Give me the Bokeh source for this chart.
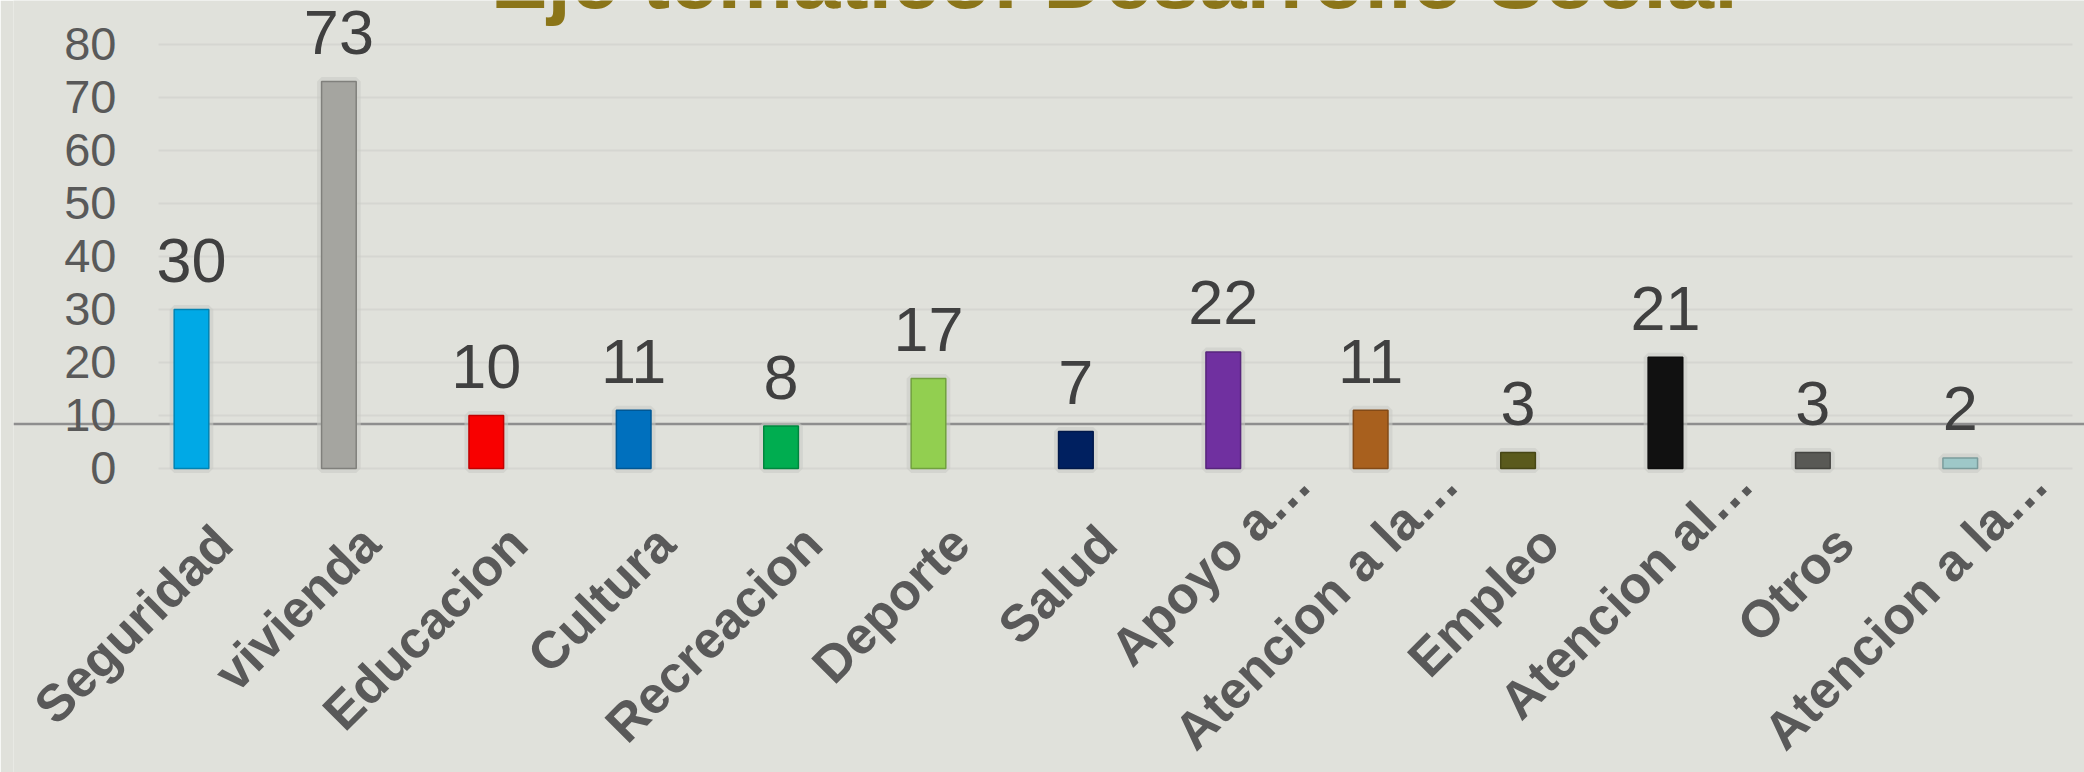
import math
from bokeh.plotting import figure
from bokeh.models import Range1d, FixedTicker, Span, Label, LinearAxis
from bokeh.core.properties import value
from bokeh.embed import file_html
from bokeh.resources import INLINE

# ---- data ----
categories = ["Seguridad", "vivienda", "Educacion", "Cultura", "Recreacion",
              "Deporte", "Salud", "Apoyo a\u2026", "Atencion a la\u2026", "Empleo",
              "Atencion al\u2026", "Otros", "Atencion a la\u2026"]
counts = [30, 73, 10, 11, 8, 17, 7, 22, 11, 3, 21, 3, 2]
bar_colors = ["#00A9E6", "#A5A5A0", "#F80000", "#0070BE", "#00AD50", "#92CF50",
              "#002060", "#7030A0", "#A8601E", "#5A5A1C", "#111111", "#595955",
              "#9EC8C8"]
y_ticks = [0, 10, 20, 30, 40, 50, 60, 70, 80]
title_text = "Eje tematico: Desarrollo Social"

# ---- style ----
BG = "#E0E1DB"
FONT = "Liberation Sans"
LABEL_SHIFT = 0.215       # rotated category labels sit a bit right of the bar
TRUNC_SHIFT = 0.53        # truncated ("…") labels sit further right / higher

def darker(hexcol, f=0.78):
    h = hexcol.lstrip("#")
    r, g, b = (int(h[i:i + 2], 16) for i in (0, 2, 4))
    return "#%02X%02X%02X" % (int(r * f), int(g * f), int(b * f))

edge_colors = [darker(c) for c in bar_colors]
idx = list(range(len(categories)))

p = figure(width=2084, height=772, output_backend="svg", toolbar_location=None,
           x_range=Range1d(-1.2076, 12.843), y_range=Range1d(-57.36, 88.3),
           min_border_left=13, min_border_right=0, min_border_top=0,
           min_border_bottom=0, background_fill_color=BG,
           border_fill_color=BG, outline_line_color=None)

# grid
p.xgrid.visible = False
p.ygrid.grid_line_color = "#D5D6D1"
p.ygrid.grid_line_width = 2
try:
    p.ygrid.cross_bounds = (-0.224, 12.761)
except Exception:
    pass

# y axis
yax = p.yaxis[0]
yax.ticker = FixedTicker(ticks=y_ticks)
yax.fixed_location = -0.414
yax.axis_line_color = None
yax.major_tick_line_color = None
yax.minor_tick_line_color = None
yax.major_label_standoff = 8
yax.major_label_text_font = FONT
yax.major_label_text_font_size = "47px"
yax.major_label_text_color = "#595959"

# x axes: category labels (plain and truncated ones)
p.xaxis[0].visible = False

def cat_axis(pairs, standoff):
    ax = LinearAxis(fixed_location=0)
    ax.ticker = FixedTicker(ticks=[t for t, _ in pairs])
    ax.major_label_overrides = {t: c for t, c in pairs}
    ax.major_label_orientation = math.pi / 4
    ax.axis_line_color = None
    ax.major_tick_line_color = None
    ax.minor_tick_line_color = None
    ax.major_label_standoff = standoff
    ax.major_label_text_font = FONT
    ax.major_label_text_font_style = "bold"
    ax.major_label_text_font_size = "52px"
    ax.major_label_text_color = "#595959"
    p.add_layout(ax, "below")

plain = [(i + LABEL_SHIFT, c) for i, c in zip(idx, categories) if not c.endswith("\u2026")]
trunc = [(i + TRUNC_SHIFT, c) for i, c in zip(idx, categories) if c.endswith("\u2026")]
cat_axis(plain, 60)
cat_axis(trunc, 0)

# divider line behind bars
p.add_layout(Span(location=8.4, dimension="width", line_color="#8E8E8E",
                  line_width=2.5, level="underlay"))

# bar halo (soft shadow)
p.vbar(x=idx, top=counts, width=0.235, bottom=0, fill_color="#C9CAC4",
       line_color="#C9CAC4", line_width=9, fill_alpha=0.6, line_alpha=0.55)
# bars
p.vbar(x=idx, top=counts, width=0.235, bottom=0, fill_color=bar_colors,
       line_color=edge_colors, line_width=1.5)

# value labels
p.text(x=idx, y=counts, text=[str(c) for c in counts], text_align="center",
       text_baseline="alphabetic", y_offset=-49, text_font=value(FONT),
       text_font_size="63px", text_color="#404040")

# title (partially cut at the top as in the reference)
p.add_layout(Label(x=6.26, y=92.5, text=title_text, text_align="center",
                   text_baseline="alphabetic", text_font=FONT,
                   text_font_style="bold", text_font_size="85px",
                   text_color="#8B7519"))

open("out.html", "w").write(file_html(p, INLINE))
